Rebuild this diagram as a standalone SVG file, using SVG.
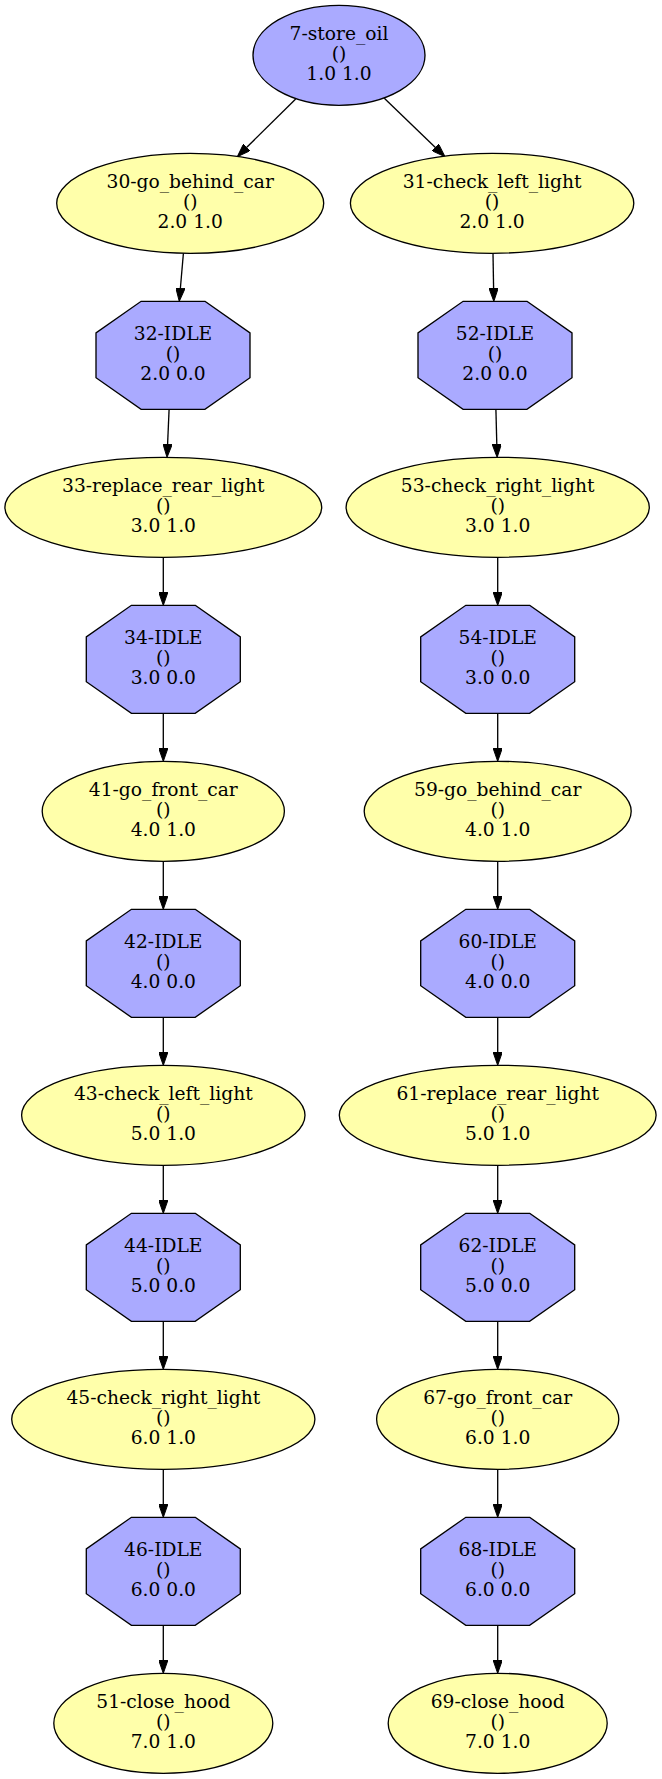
<svg xmlns="http://www.w3.org/2000/svg" xmlns:xlink="http://www.w3.org/1999/xlink" width="662" height="1779" viewBox="0 0 662 1779">
<style>
  .b { fill: #aaaaff; stroke: #000; stroke-width: 1.33; }
  .y { fill: #ffffaa; stroke: #000; stroke-width: 1.33; }
  text { font-family: "DejaVu Serif", "Liberation Serif", serif; font-size: 18.67px; text-anchor: middle; fill: #000; }
  .e { stroke: #000; stroke-width: 1.33; fill: none; marker-end: url(#ah); }
</style>
<defs>
  <marker id="ah" markerUnits="userSpaceOnUse" viewBox="0 0 13.33 9.33" refX="0" refY="4.67" markerWidth="13.33" markerHeight="9.33" orient="auto">
    <path d="M0,0 L13.33,4.67 L0,9.33 Z" fill="#000" stroke="#000" stroke-width="1"/>
  </marker>
  <polygon id="oct" points="31.9,-54 77,-22.4 77,22.4 31.9,54 -31.9,54 -77,22.4 -77,-22.4 -31.9,-54"/>
</defs>
<rect width="662" height="1779" fill="#fff"/>
<g id="edges">
  <line class="e" x1="295.7" y1="99" x2="246.8" y2="147.3"/>
  <line class="e" x1="384.3" y1="98.3" x2="435.4" y2="147.5"/>
  <line class="e" x1="183.4" y1="253.3" x2="180.4" y2="288"/>
  <line class="e" x1="169.1" y1="409.3" x2="167.6" y2="444"/>
  <line class="e" x1="493" y1="253.3" x2="493.6" y2="288"/>
  <line class="e" x1="495.9" y1="409.3" x2="496.8" y2="444"/>
  <line class="e" x1="163.3" y1="557.3" x2="163.3" y2="592"/>
  <line class="e" x1="163.3" y1="713.3" x2="163.3" y2="748"/>
  <line class="e" x1="163.3" y1="861.3" x2="163.3" y2="896"/>
  <line class="e" x1="163.3" y1="1017.3" x2="163.3" y2="1052"/>
  <line class="e" x1="163.3" y1="1165.3" x2="163.3" y2="1200"/>
  <line class="e" x1="163.3" y1="1321.3" x2="163.3" y2="1356"/>
  <line class="e" x1="163.3" y1="1469.3" x2="163.3" y2="1504"/>
  <line class="e" x1="163.3" y1="1625.3" x2="163.3" y2="1660"/>
  <line class="e" x1="497.7" y1="557.3" x2="497.7" y2="592"/>
  <line class="e" x1="497.7" y1="713.3" x2="497.7" y2="748"/>
  <line class="e" x1="497.7" y1="861.3" x2="497.7" y2="896"/>
  <line class="e" x1="497.7" y1="1017.3" x2="497.7" y2="1052"/>
  <line class="e" x1="497.7" y1="1165.3" x2="497.7" y2="1200"/>
  <line class="e" x1="497.7" y1="1321.3" x2="497.7" y2="1356"/>
  <line class="e" x1="497.7" y1="1469.3" x2="497.7" y2="1504"/>
  <line class="e" x1="497.7" y1="1625.3" x2="497.7" y2="1660"/>
</g>
<g id="n7" transform="translate(339,55.3)"><ellipse class="b" rx="86" ry="50"/><text y="-15.5">7-store_oil</text><text y="4.5">()</text><text y="24.5">1.0 1.0</text></g>
<g id="n30" transform="translate(190.2,203.3)"><ellipse class="y" rx="133.5" ry="50"/><text y="-15.5">30-go_behind_car</text><text y="4.5">()</text><text y="24.5">2.0 1.0</text></g>
<g id="n31" transform="translate(492.1,203.3)"><ellipse class="y" rx="141.7" ry="50"/><text y="-15.5">31-check_left_light</text><text y="4.5">()</text><text y="24.5">2.0 1.0</text></g>
<g id="n32" transform="translate(173,355.3)"><use xlink:href="#oct" href="#oct" class="b"/><text y="-15.5">32-IDLE</text><text y="4.5">()</text><text y="24.5">2.0 0.0</text></g>
<g id="n52" transform="translate(495,355.3)"><use xlink:href="#oct" href="#oct" class="b"/><text y="-15.5">52-IDLE</text><text y="4.5">()</text><text y="24.5">2.0 0.0</text></g>
<g id="n33" transform="translate(163.3,507.3)"><ellipse class="y" rx="158.4" ry="50"/><text y="-15.5">33-replace_rear_light</text><text y="4.5">()</text><text y="24.5">3.0 1.0</text></g>
<g id="n53" transform="translate(497.7,507.3)"><ellipse class="y" rx="151.6" ry="50"/><text y="-15.5">53-check_right_light</text><text y="4.5">()</text><text y="24.5">3.0 1.0</text></g>
<g id="n34" transform="translate(163.3,659.3)"><use xlink:href="#oct" href="#oct" class="b"/><text y="-15.5">34-IDLE</text><text y="4.5">()</text><text y="24.5">3.0 0.0</text></g>
<g id="n54" transform="translate(497.7,659.3)"><use xlink:href="#oct" href="#oct" class="b"/><text y="-15.5">54-IDLE</text><text y="4.5">()</text><text y="24.5">3.0 0.0</text></g>
<g id="n41" transform="translate(163.3,811.3)"><ellipse class="y" rx="121.1" ry="50"/><text y="-15.5">41-go_front_car</text><text y="4.5">()</text><text y="24.5">4.0 1.0</text></g>
<g id="n59" transform="translate(497.7,811.3)"><ellipse class="y" rx="133.5" ry="50"/><text y="-15.5">59-go_behind_car</text><text y="4.5">()</text><text y="24.5">4.0 1.0</text></g>
<g id="n42" transform="translate(163.3,963.3)"><use xlink:href="#oct" href="#oct" class="b"/><text y="-15.5">42-IDLE</text><text y="4.5">()</text><text y="24.5">4.0 0.0</text></g>
<g id="n60" transform="translate(497.7,963.3)"><use xlink:href="#oct" href="#oct" class="b"/><text y="-15.5">60-IDLE</text><text y="4.5">()</text><text y="24.5">4.0 0.0</text></g>
<g id="n43" transform="translate(163.3,1115.3)"><ellipse class="y" rx="141.7" ry="50"/><text y="-15.5">43-check_left_light</text><text y="4.5">()</text><text y="24.5">5.0 1.0</text></g>
<g id="n61" transform="translate(497.7,1115.3)"><ellipse class="y" rx="158.4" ry="50"/><text y="-15.5">61-replace_rear_light</text><text y="4.5">()</text><text y="24.5">5.0 1.0</text></g>
<g id="n44" transform="translate(163.3,1267.3)"><use xlink:href="#oct" href="#oct" class="b"/><text y="-15.5">44-IDLE</text><text y="4.5">()</text><text y="24.5">5.0 0.0</text></g>
<g id="n62" transform="translate(497.7,1267.3)"><use xlink:href="#oct" href="#oct" class="b"/><text y="-15.5">62-IDLE</text><text y="4.5">()</text><text y="24.5">5.0 0.0</text></g>
<g id="n45" transform="translate(163.3,1419.3)"><ellipse class="y" rx="151.6" ry="50"/><text y="-15.5">45-check_right_light</text><text y="4.5">()</text><text y="24.5">6.0 1.0</text></g>
<g id="n67" transform="translate(497.7,1419.3)"><ellipse class="y" rx="121.1" ry="50"/><text y="-15.5">67-go_front_car</text><text y="4.5">()</text><text y="24.5">6.0 1.0</text></g>
<g id="n46" transform="translate(163.3,1571.3)"><use xlink:href="#oct" href="#oct" class="b"/><text y="-15.5">46-IDLE</text><text y="4.5">()</text><text y="24.5">6.0 0.0</text></g>
<g id="n68" transform="translate(497.7,1571.3)"><use xlink:href="#oct" href="#oct" class="b"/><text y="-15.5">68-IDLE</text><text y="4.5">()</text><text y="24.5">6.0 0.0</text></g>
<g id="n51" transform="translate(163.3,1723.3)"><ellipse class="y" rx="109.5" ry="50"/><text y="-15.5">51-close_hood</text><text y="4.5">()</text><text y="24.5">7.0 1.0</text></g>
<g id="n69" transform="translate(497.7,1723.3)"><ellipse class="y" rx="109.5" ry="50"/><text y="-15.5">69-close_hood</text><text y="4.5">()</text><text y="24.5">7.0 1.0</text></g>
</svg>
